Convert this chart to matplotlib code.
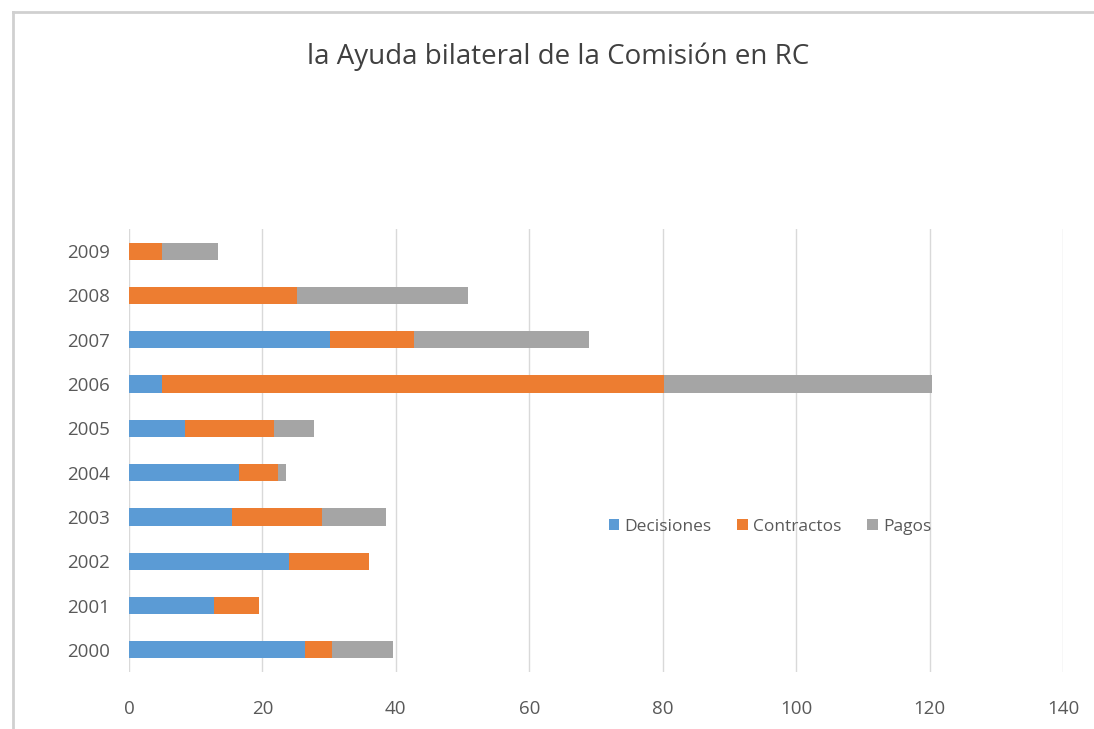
import matplotlib
matplotlib.use("Agg")
import matplotlib.pyplot as plt
from matplotlib.lines import Line2D
import numpy as np

years = ["2000", "2001", "2002", "2003", "2004", "2005", "2006", "2007", "2008", "2009"]
decisiones = [26.4, 12.7, 24.0, 15.4, 16.5, 8.4, 5.0, 30.1, 0.0, 0.0]
contractos = [4.0, 6.8, 12.0, 13.5, 5.8, 13.3, 75.2, 12.6, 25.2, 4.9]
pagos = [9.2, 0.0, 0.0, 9.6, 1.2, 6.0, 40.2, 26.3, 25.6, 8.4]
series_names = ["Decisiones", "Contractos", "Pagos"]
colors = ["#5B9BD5", "#ED7D31", "#A5A5A5"]

plt.rcParams["font.family"] = ["Open Sans", "DejaVu Sans"]

fig = plt.figure(figsize=(10.94, 7.29), dpi=100)
ax = fig.add_axes([129 / 1094, 1 - 672 / 729, 934 / 1094, 443 / 729])

y = np.arange(len(years))
left = np.zeros(len(years))
for name, vals, c in zip(series_names, [decisiones, contractos, pagos], colors):
    ax.barh(y, vals, left=left, height=0.39, color=c, label=name, zorder=3)
    left = left + np.array(vals)

ax.set_xlim(0, 140)
ax.set_ylim(-0.5, 9.5)
ax.set_xticks(range(0, 141, 20))
ax.set_yticks(y)
ax.set_yticklabels(years)
ax.grid(axis="x", color="#d9d9d9", linewidth=1, zorder=0)
for s in ax.spines.values():
    s.set_visible(False)
ax.tick_params(length=0, colors="#595959", labelsize=13.5)
ax.tick_params(axis="x", pad=20)
ax.tick_params(axis="y", pad=14)

ax.legend(loc="center", bbox_to_anchor=(770 / 1094, 1 - 527 / 729),
          bbox_transform=fig.transFigure, ncol=3, frameon=False,
          fontsize=12.5, handlelength=0.6, handleheight=0.6,
          handletextpad=0.3, columnspacing=1.5, labelcolor="#595959")

fig.text(558 / 1094, 1 - 57 / 729, "la Ayuda bilateral de la Comisión en RC",
         ha="center", va="center", fontsize=20, color="#404040")

# frame of the screenshot: top and left edges only
top = 1 - 12 / 729
lx = 13 / 1094
fig.add_artist(Line2D([lx, 1.0], [top, top], transform=fig.transFigure,
                      color="#d0d0d0", linewidth=2))
fig.add_artist(Line2D([lx, lx], [0.0, top], transform=fig.transFigure,
                      color="#d0d0d0", linewidth=2))

fig.savefig("out.png", dpi=100, facecolor="white")
